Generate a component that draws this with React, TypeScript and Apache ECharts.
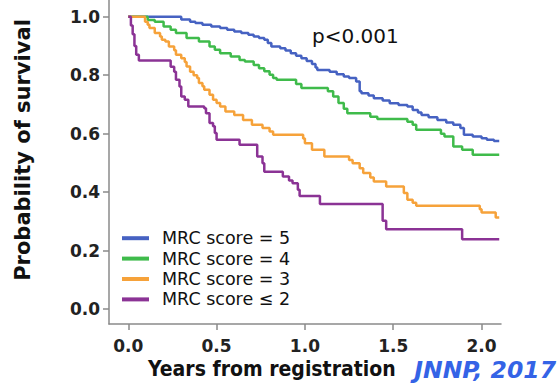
import React, { useEffect, useRef } from "react";
import * as echarts from "echarts";

const xTicks = [0, 0.5, 1, 1.5, 2];
const yTicks = [0, 0.2, 0.4, 0.6, 0.8, 1.0];
const seriesNames = ["MRC score = 5", "MRC score = 4", "MRC score = 3", "MRC score ≤ 2"];
const seriesColors = ["#4662c2", "#3fbb4b", "#f6a23a", "#8b3395"];

// [years, survival probability] — Kaplan-Meier steps
const mrc5: [number, number][] = [
  [0, 1], [0.27, 1], [0.3, 0.99], [0.35, 0.983], [0.38, 0.978], [0.42, 0.972], [0.47, 0.966],
  [0.52, 0.961], [0.56, 0.955], [0.6, 0.949], [0.64, 0.944], [0.68, 0.938], [0.71, 0.932],
  [0.74, 0.927], [0.77, 0.921], [0.79, 0.91], [0.81, 0.898], [0.86, 0.892], [0.89, 0.884],
  [0.92, 0.875], [0.95, 0.866], [0.98, 0.858], [1.01, 0.848], [1.04, 0.838], [1.06, 0.826],
  [1.07, 0.818], [1.14, 0.812], [1.18, 0.803], [1.22, 0.795], [1.25, 0.79], [1.29, 0.778],
  [1.31, 0.745], [1.32, 0.738], [1.36, 0.73], [1.39, 0.721], [1.44, 0.713], [1.48, 0.704],
  [1.53, 0.698], [1.58, 0.693], [1.61, 0.681], [1.64, 0.672], [1.66, 0.664], [1.7, 0.656],
  [1.75, 0.647], [1.8, 0.638], [1.84, 0.63], [1.88, 0.619], [1.9, 0.596], [1.95, 0.59],
  [2.0, 0.584], [2.03, 0.579], [2.07, 0.575], [2.1, 0.573],
];
const mrc4: [number, number][] = [
  [0, 1], [0.1, 1], [0.11, 0.989], [0.15, 0.983], [0.2, 0.966], [0.24, 0.955], [0.27, 0.944],
  [0.33, 0.927], [0.4, 0.915], [0.46, 0.898], [0.49, 0.887], [0.52, 0.875], [0.58, 0.864],
  [0.63, 0.852], [0.66, 0.847], [0.71, 0.835], [0.74, 0.824], [0.77, 0.813], [0.8, 0.801],
  [0.82, 0.79], [0.84, 0.784], [0.95, 0.77], [0.98, 0.756], [1.13, 0.745], [1.16, 0.727],
  [1.19, 0.705], [1.22, 0.685], [1.24, 0.67], [1.37, 0.658], [1.41, 0.65], [1.58, 0.641],
  [1.61, 0.63], [1.63, 0.613], [1.77, 0.6], [1.79, 0.59], [1.84, 0.556], [1.89, 0.545],
  [1.95, 0.528], [2.1, 0.528],
];
const mrc3: [number, number][] = [
  [0, 1], [0.09, 1], [0.095, 0.983], [0.11, 0.972], [0.12, 0.961], [0.15, 0.944], [0.18, 0.932],
  [0.19, 0.921], [0.21, 0.915], [0.23, 0.898], [0.26, 0.885], [0.27, 0.87], [0.3, 0.858],
  [0.32, 0.845], [0.33, 0.83], [0.35, 0.812], [0.37, 0.8], [0.39, 0.79], [0.4, 0.773],
  [0.42, 0.762], [0.43, 0.75], [0.46, 0.733], [0.48, 0.716], [0.5, 0.705], [0.52, 0.693],
  [0.55, 0.676], [0.6, 0.664], [0.65, 0.647], [0.7, 0.63], [0.76, 0.619], [0.8, 0.607],
  [0.82, 0.596], [0.99, 0.583], [1.0, 0.567], [1.04, 0.545], [1.11, 0.522], [1.25, 0.51],
  [1.27, 0.499], [1.31, 0.482], [1.33, 0.465], [1.37, 0.45], [1.39, 0.436], [1.46, 0.419],
  [1.56, 0.397], [1.58, 0.374], [1.61, 0.364], [1.63, 0.353], [1.99, 0.341], [2.0, 0.33],
  [2.08, 0.313], [2.1, 0.313],
];
const mrc2: [number, number][] = [
  [0, 1], [0.01, 1], [0.015, 0.97], [0.025, 0.94], [0.035, 0.9], [0.045, 0.87], [0.06, 0.85],
  [0.22, 0.85], [0.24, 0.829], [0.26, 0.812], [0.27, 0.784], [0.29, 0.761], [0.3, 0.727],
  [0.32, 0.716], [0.34, 0.693], [0.43, 0.687], [0.44, 0.67], [0.46, 0.636], [0.48, 0.625],
  [0.49, 0.602], [0.5, 0.579], [0.63, 0.562], [0.73, 0.522], [0.76, 0.499], [0.77, 0.47],
  [0.875, 0.453], [0.91, 0.44], [0.93, 0.43], [0.96, 0.408], [0.97, 0.387], [1.085, 0.359],
  [1.44, 0.302], [1.46, 0.273], [1.89, 0.239], [2.1, 0.239],
];
const seriesData = [mrc5, mrc4, mrc3, mrc2];

const FONT = "'DejaVu Sans', sans-serif";
const COND = "'DejaVu Sans Condensed', 'DejaVu Sans', sans-serif";

export default function App() {
  const ref = useRef<HTMLDivElement>(null);
  useEffect(() => {
    if (!ref.current) return;
    const chart = echarts.init(ref.current, null, { renderer: "svg" });
    const axisColor = "#8a8a8a";
    chart.setOption({
      animation: false,
      backgroundColor: "#ffffff",
      grid: { left: 109, right: 59, top: 0, bottom: 68, outerBoundsMode: "none" },
      xAxis: {
        type: "value",
        min: -0.109,
        max: 2.11,
        splitLine: { show: false },
        axisLine: { show: true, onZero: false, lineStyle: { color: axisColor, width: 1.5 } },
        axisTick: { show: true, length: 6, customValues: xTicks, lineStyle: { color: axisColor, width: 1.5 } },
        axisLabel: {
          customValues: xTicks,
          formatter: (v: number) => v.toFixed(1),
          fontFamily: FONT,
          fontWeight: "bold",
          fontSize: 17,
          color: "#222",
          margin: 13,
        },
      },
      yAxis: {
        type: "value",
        min: -0.051,
        max: 1.057,
        splitLine: { show: false },
        axisLine: { show: true, onZero: false, lineStyle: { color: axisColor, width: 1.5 } },
        axisTick: { show: true, length: 6, customValues: yTicks, lineStyle: { color: axisColor, width: 1.5 } },
        axisLabel: {
          customValues: yTicks,
          formatter: (v: number) => v.toFixed(1),
          fontFamily: FONT,
          fontWeight: "bold",
          fontSize: 17,
          color: "#222",
          margin: 9,
        },
      },
      legend: {
        orient: "vertical",
        left: 122,
        top: 228,
        padding: 0,
        icon: "rect",
        itemWidth: 27,
        itemHeight: 4,
        itemGap: 0,
        selectedMode: false,
        data: seriesNames,
        textStyle: {
          fontFamily: FONT,
          fontSize: 17.5,
          color: "#111",
          lineHeight: 20.4,
          padding: [0, 0, 0, 8],
        },
      },
      graphic: [
        {
          type: "text",
          x: 23,
          y: 150,
          rotation: Math.PI / 2,
          style: {
            text: "Probability of survival",
            font: `bold 21px ${FONT}`,
            fill: "#111",
            align: "center",
            verticalAlign: "middle",
          },
        },
        {
          type: "text",
          x: 312,
          y: 36,
          style: {
            text: "p<0.001",
            font: `20px ${FONT}`,
            fill: "#111",
            align: "left",
            verticalAlign: "middle",
          },
        },
        {
          type: "text",
          x: 148,
          y: 369,
          style: {
            text: "Years from registration",
            font: `bold 21px ${COND}`,
            fill: "#111",
            align: "left",
            verticalAlign: "middle",
          },
        },
        {
          type: "text",
          x: 556,
          y: 370,
          style: {
            text: "JNNP, 2017",
            font: `italic bold 23.5px ${FONT}`,
            fill: "#3463e6",
            align: "right",
            verticalAlign: "middle",
          },
        },
      ],
      series: seriesNames.map((name, i) => ({
        name,
        type: "line",
        step: "end",
        showSymbol: false,
        symbol: "none",
        data: seriesData[i],
        color: seriesColors[i],
        lineStyle: { color: seriesColors[i], width: 2.5 },
        z: 2 + i,
      })),
    });
    return () => chart.dispose();
  }, []);
  return (
    <div
      ref={ref}
      style={{ position: "fixed", left: 0, top: 0, width: 560, height: 392, background: "#fff" }}
    />
  );
}
